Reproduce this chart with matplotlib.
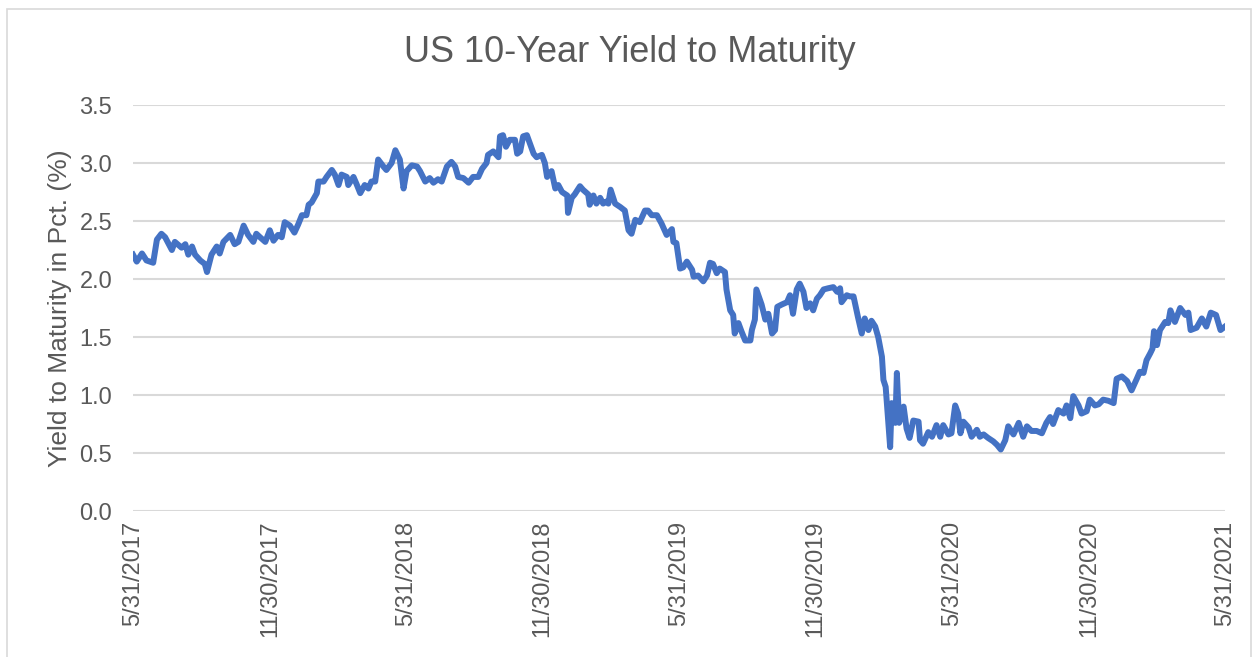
import matplotlib.pyplot as plt
import pandas as pd
from matplotlib.patches import Rectangle

plt.rcParams['font.family'] = ['Liberation Sans', 'DejaVu Sans']

# yields
dates = [
    "2017-05-31", "2017-06-05", "2017-06-12", "2017-06-18", "2017-06-27", "2017-07-02", "2017-07-08",
    "2017-07-13", "2017-07-22", "2017-07-26", "2017-08-04", "2017-08-09", "2017-08-13", "2017-08-18",
    "2017-08-22", "2017-08-29", "2017-09-04", "2017-09-07", "2017-09-13", "2017-09-20", "2017-09-24",
    "2017-09-29", "2017-10-08", "2017-10-14", "2017-10-19", "2017-10-26", "2017-11-01", "2017-11-08",
    "2017-11-12", "2017-11-17", "2017-11-24", "2017-11-30", "2017-12-05", "2017-12-11", "2017-12-16",
    "2017-12-20", "2017-12-27", "2018-01-02", "2018-01-07", "2018-01-12", "2018-01-18", "2018-01-21",
    "2018-01-25", "2018-02-01", "2018-02-03", "2018-02-10", "2018-02-14", "2018-02-21", "2018-02-25",
    "2018-03-02", "2018-03-06", "2018-03-13", "2018-03-15", "2018-03-22", "2018-03-26", "2018-03-31",
    "2018-04-06", "2018-04-11", "2018-04-15", "2018-04-20", "2018-04-24", "2018-05-01", "2018-05-05",
    "2018-05-12", "2018-05-17", "2018-05-23", "2018-05-28", "2018-06-01", "2018-06-08", "2018-06-15",
    "2018-06-19", "2018-06-26", "2018-07-02", "2018-07-07", "2018-07-13", "2018-07-18", "2018-07-25",
    "2018-07-31", "2018-08-05", "2018-08-09", "2018-08-16", "2018-08-23", "2018-08-29", "2018-09-05",
    "2018-09-10", "2018-09-16", "2018-09-18", "2018-09-25", "2018-10-02", "2018-10-04", "2018-10-08",
    "2018-10-12", "2018-10-17", "2018-10-24", "2018-10-27", "2018-10-31", "2018-11-04", "2018-11-09",
    "2018-11-13", "2018-11-18", "2018-11-22", "2018-11-29", "2018-12-03", "2018-12-06", "2018-12-12",
    "2018-12-17", "2018-12-21", "2018-12-26", "2019-01-02", "2019-01-03", "2019-01-08", "2019-01-12",
    "2019-01-19", "2019-01-23", "2019-01-30", "2019-02-01", "2019-02-06", "2019-02-10", "2019-02-15",
    "2019-02-19", "2019-02-24", "2019-02-26", "2019-03-01", "2019-03-07", "2019-03-14", "2019-03-20",
    "2019-03-25", "2019-03-29", "2019-04-03", "2019-04-09", "2019-04-16", "2019-04-20", "2019-04-25",
    "2019-05-02", "2019-05-08", "2019-05-15", "2019-05-22", "2019-05-24", "2019-05-28", "2019-06-02",
    "2019-06-06", "2019-06-11", "2019-06-18", "2019-06-20", "2019-06-26", "2019-07-03", "2019-07-08",
    "2019-07-12", "2019-07-16", "2019-07-21", "2019-07-25", "2019-08-01", "2019-08-03", "2019-08-08",
    "2019-08-12", "2019-08-14", "2019-08-19", "2019-08-23", "2019-08-28", "2019-09-04", "2019-09-06",
    "2019-09-10", "2019-09-12", "2019-09-19", "2019-09-24", "2019-09-28", "2019-10-03", "2019-10-07",
    "2019-10-10", "2019-10-16", "2019-10-23", "2019-10-27", "2019-10-31", "2019-11-05", "2019-11-09",
    "2019-11-14", "2019-11-18", "2019-11-23", "2019-11-27", "2019-12-02", "2019-12-06", "2019-12-11",
    "2019-12-17", "2019-12-24", "2019-12-29", "2020-01-02", "2020-01-04", "2020-01-11", "2020-01-15",
    "2020-01-20", "2020-01-26", "2020-01-31", "2020-02-04", "2020-02-09", "2020-02-13", "2020-02-18",
    "2020-02-22", "2020-02-27", "2020-02-29", "2020-03-03", "2020-03-09", "2020-03-11", "2020-03-16",
    "2020-03-18", "2020-03-21", "2020-03-27", "2020-03-31", "2020-04-04", "2020-04-09", "2020-04-16",
    "2020-04-18", "2020-04-22", "2020-04-29", "2020-05-04", "2020-05-10", "2020-05-15", "2020-05-19",
    "2020-05-26", "2020-05-30", "2020-06-04", "2020-06-08", "2020-06-11", "2020-06-15", "2020-06-22",
    "2020-06-26", "2020-07-03", "2020-07-07", "2020-07-12", "2020-07-18", "2020-07-25", "2020-07-30",
    "2020-08-04", "2020-08-10", "2020-08-14", "2020-08-21", "2020-08-28", "2020-09-03", "2020-09-08",
    "2020-09-14", "2020-09-21", "2020-09-28", "2020-10-04", "2020-10-09", "2020-10-13", "2020-10-20",
    "2020-10-27", "2020-10-31", "2020-11-05", "2020-11-09", "2020-11-16", "2020-11-20", "2020-11-27",
    "2020-12-01", "2020-12-08", "2020-12-13", "2020-12-19", "2020-12-26", "2021-01-02", "2021-01-06",
    "2021-01-13", "2021-01-20", "2021-01-26", "2021-02-02", "2021-02-06", "2021-02-11", "2021-02-15",
    "2021-02-20", "2021-02-23", "2021-02-25", "2021-03-01", "2021-03-05", "2021-03-12", "2021-03-16",
    "2021-03-19", "2021-03-25", "2021-04-01", "2021-04-08", "2021-04-12", "2021-04-15", "2021-04-23",
    "2021-04-30", "2021-05-06", "2021-05-12", "2021-05-19", "2021-05-25", "2021-05-31",
]
ytm = [
    2.21, 2.15, 2.22, 2.16, 2.14, 2.34, 2.39,
    2.36, 2.25, 2.32, 2.27, 2.30, 2.21, 2.28,
    2.21, 2.16, 2.13, 2.06, 2.21, 2.28, 2.22,
    2.32, 2.38, 2.30, 2.32, 2.46, 2.38, 2.32,
    2.39, 2.36, 2.32, 2.42, 2.33, 2.38, 2.36,
    2.49, 2.46, 2.40, 2.47, 2.55, 2.55, 2.64,
    2.66, 2.74, 2.84, 2.84, 2.88, 2.94, 2.90,
    2.81, 2.90, 2.88, 2.81, 2.88, 2.82, 2.74,
    2.81, 2.78, 2.84, 2.84, 3.03, 2.97, 2.94,
    3.00, 3.11, 3.03, 2.78, 2.93, 2.98, 2.97,
    2.93, 2.84, 2.87, 2.83, 2.86, 2.84, 2.97,
    3.01, 2.97, 2.88, 2.87, 2.83, 2.88, 2.88,
    2.95, 3.00, 3.07, 3.10, 3.05, 3.23, 3.24,
    3.14, 3.20, 3.20, 3.08, 3.10, 3.23, 3.24,
    3.17, 3.08, 3.05, 3.07, 3.00, 2.88, 2.93,
    2.78, 2.81, 2.75, 2.72, 2.57, 2.70, 2.73,
    2.80, 2.77, 2.73, 2.64, 2.72, 2.65, 2.70,
    2.65, 2.67, 2.65, 2.77, 2.65, 2.62, 2.59,
    2.42, 2.39, 2.51, 2.49, 2.59, 2.59, 2.55,
    2.55, 2.48, 2.38, 2.43, 2.32, 2.31, 2.09,
    2.10, 2.15, 2.08, 2.02, 2.03, 1.98, 2.03,
    2.14, 2.13, 2.05, 2.09, 2.06, 1.91, 1.73,
    1.69, 1.53, 1.62, 1.55, 1.47, 1.47, 1.56,
    1.65, 1.91, 1.78, 1.65, 1.70, 1.53, 1.56,
    1.76, 1.78, 1.80, 1.86, 1.70, 1.91, 1.96,
    1.89, 1.75, 1.79, 1.73, 1.83, 1.86, 1.91,
    1.92, 1.93, 1.89, 1.92, 1.80, 1.86, 1.85,
    1.85, 1.67, 1.53, 1.66, 1.56, 1.64, 1.59,
    1.50, 1.33, 1.13, 1.07, 0.55, 0.93, 0.76,
    1.19, 0.76, 0.90, 0.71, 0.63, 0.78, 0.77,
    0.61, 0.58, 0.68, 0.64, 0.74, 0.64, 0.74,
    0.66, 0.67, 0.91, 0.84, 0.67, 0.77, 0.72,
    0.64, 0.70, 0.64, 0.66, 0.63, 0.60, 0.57,
    0.53, 0.61, 0.73, 0.66, 0.76, 0.64, 0.73,
    0.69, 0.69, 0.67, 0.76, 0.81, 0.75, 0.87,
    0.84, 0.91, 0.80, 0.99, 0.91, 0.84, 0.86,
    0.96, 0.91, 0.92, 0.96, 0.95, 0.93, 1.14,
    1.16, 1.12, 1.04, 1.14, 1.20, 1.19, 1.30,
    1.36, 1.40, 1.55, 1.43, 1.56, 1.63, 1.62,
    1.73, 1.63, 1.75, 1.69, 1.71, 1.56, 1.58,
    1.66, 1.59, 1.71, 1.69, 1.56, 1.59,
]
tick_dates = ["2017-05-31", "2017-11-30", "2018-05-31", "2018-11-30", "2019-05-31",
              "2019-11-30", "2020-05-31", "2020-11-30", "2021-05-31"]
tick_labels = ["5/31/2017", "11/30/2017", "5/31/2018", "11/30/2018", "5/31/2019",
               "11/30/2019", "5/31/2020", "11/30/2020", "5/31/2021"]

grey = "#595959"

fig = plt.figure(figsize=(12.53, 6.57), dpi=100)
ax = fig.add_axes([133/1253, 146/657, 1092/1253, 406/657])

ax.plot(pd.to_datetime(dates), ytm, color="#4472C4", lw=4.3, solid_joinstyle="round")

ax.set_ylim(0, 3.5)
ax.set_yticks([0, 0.5, 1.0, 1.5, 2.0, 2.5, 3.0, 3.5])
ax.yaxis.set_major_formatter(plt.FormatStrFormatter("%.1f"))
ax.set_xlim(pd.Timestamp("2017-05-31"), pd.Timestamp("2021-05-31"))
ax.set_xticks(pd.to_datetime(tick_dates))
ax.set_xticklabels(tick_labels, rotation=90)

ax.grid(axis="y", color="#d9d9d9", lw=1.5)
ax.set_axisbelow(True)
for s in ax.spines.values():
    s.set_visible(False)
ax.tick_params(length=0, labelsize=17, labelcolor=grey)
ax.tick_params(axis="y", pad=15)
ax.tick_params(axis="x", pad=7)

ax.set_ylabel("Yield to Maturity in Pct. (%)", fontsize=19, color=grey, labelpad=5)
fig.text(630/1253, 1 - 52/657, "US 10-Year Yield to Maturity", fontsize=26,
         color=grey, ha="center", va="center")

# light chart frame
fig.patches.append(Rectangle((7/1253, -0.01), 1244/1253, 1.01 - 9/657, transform=fig.transFigure,
                             fill=False, edgecolor="#d9d9d9", lw=1.2))

fig.savefig("out.png", dpi=100)
